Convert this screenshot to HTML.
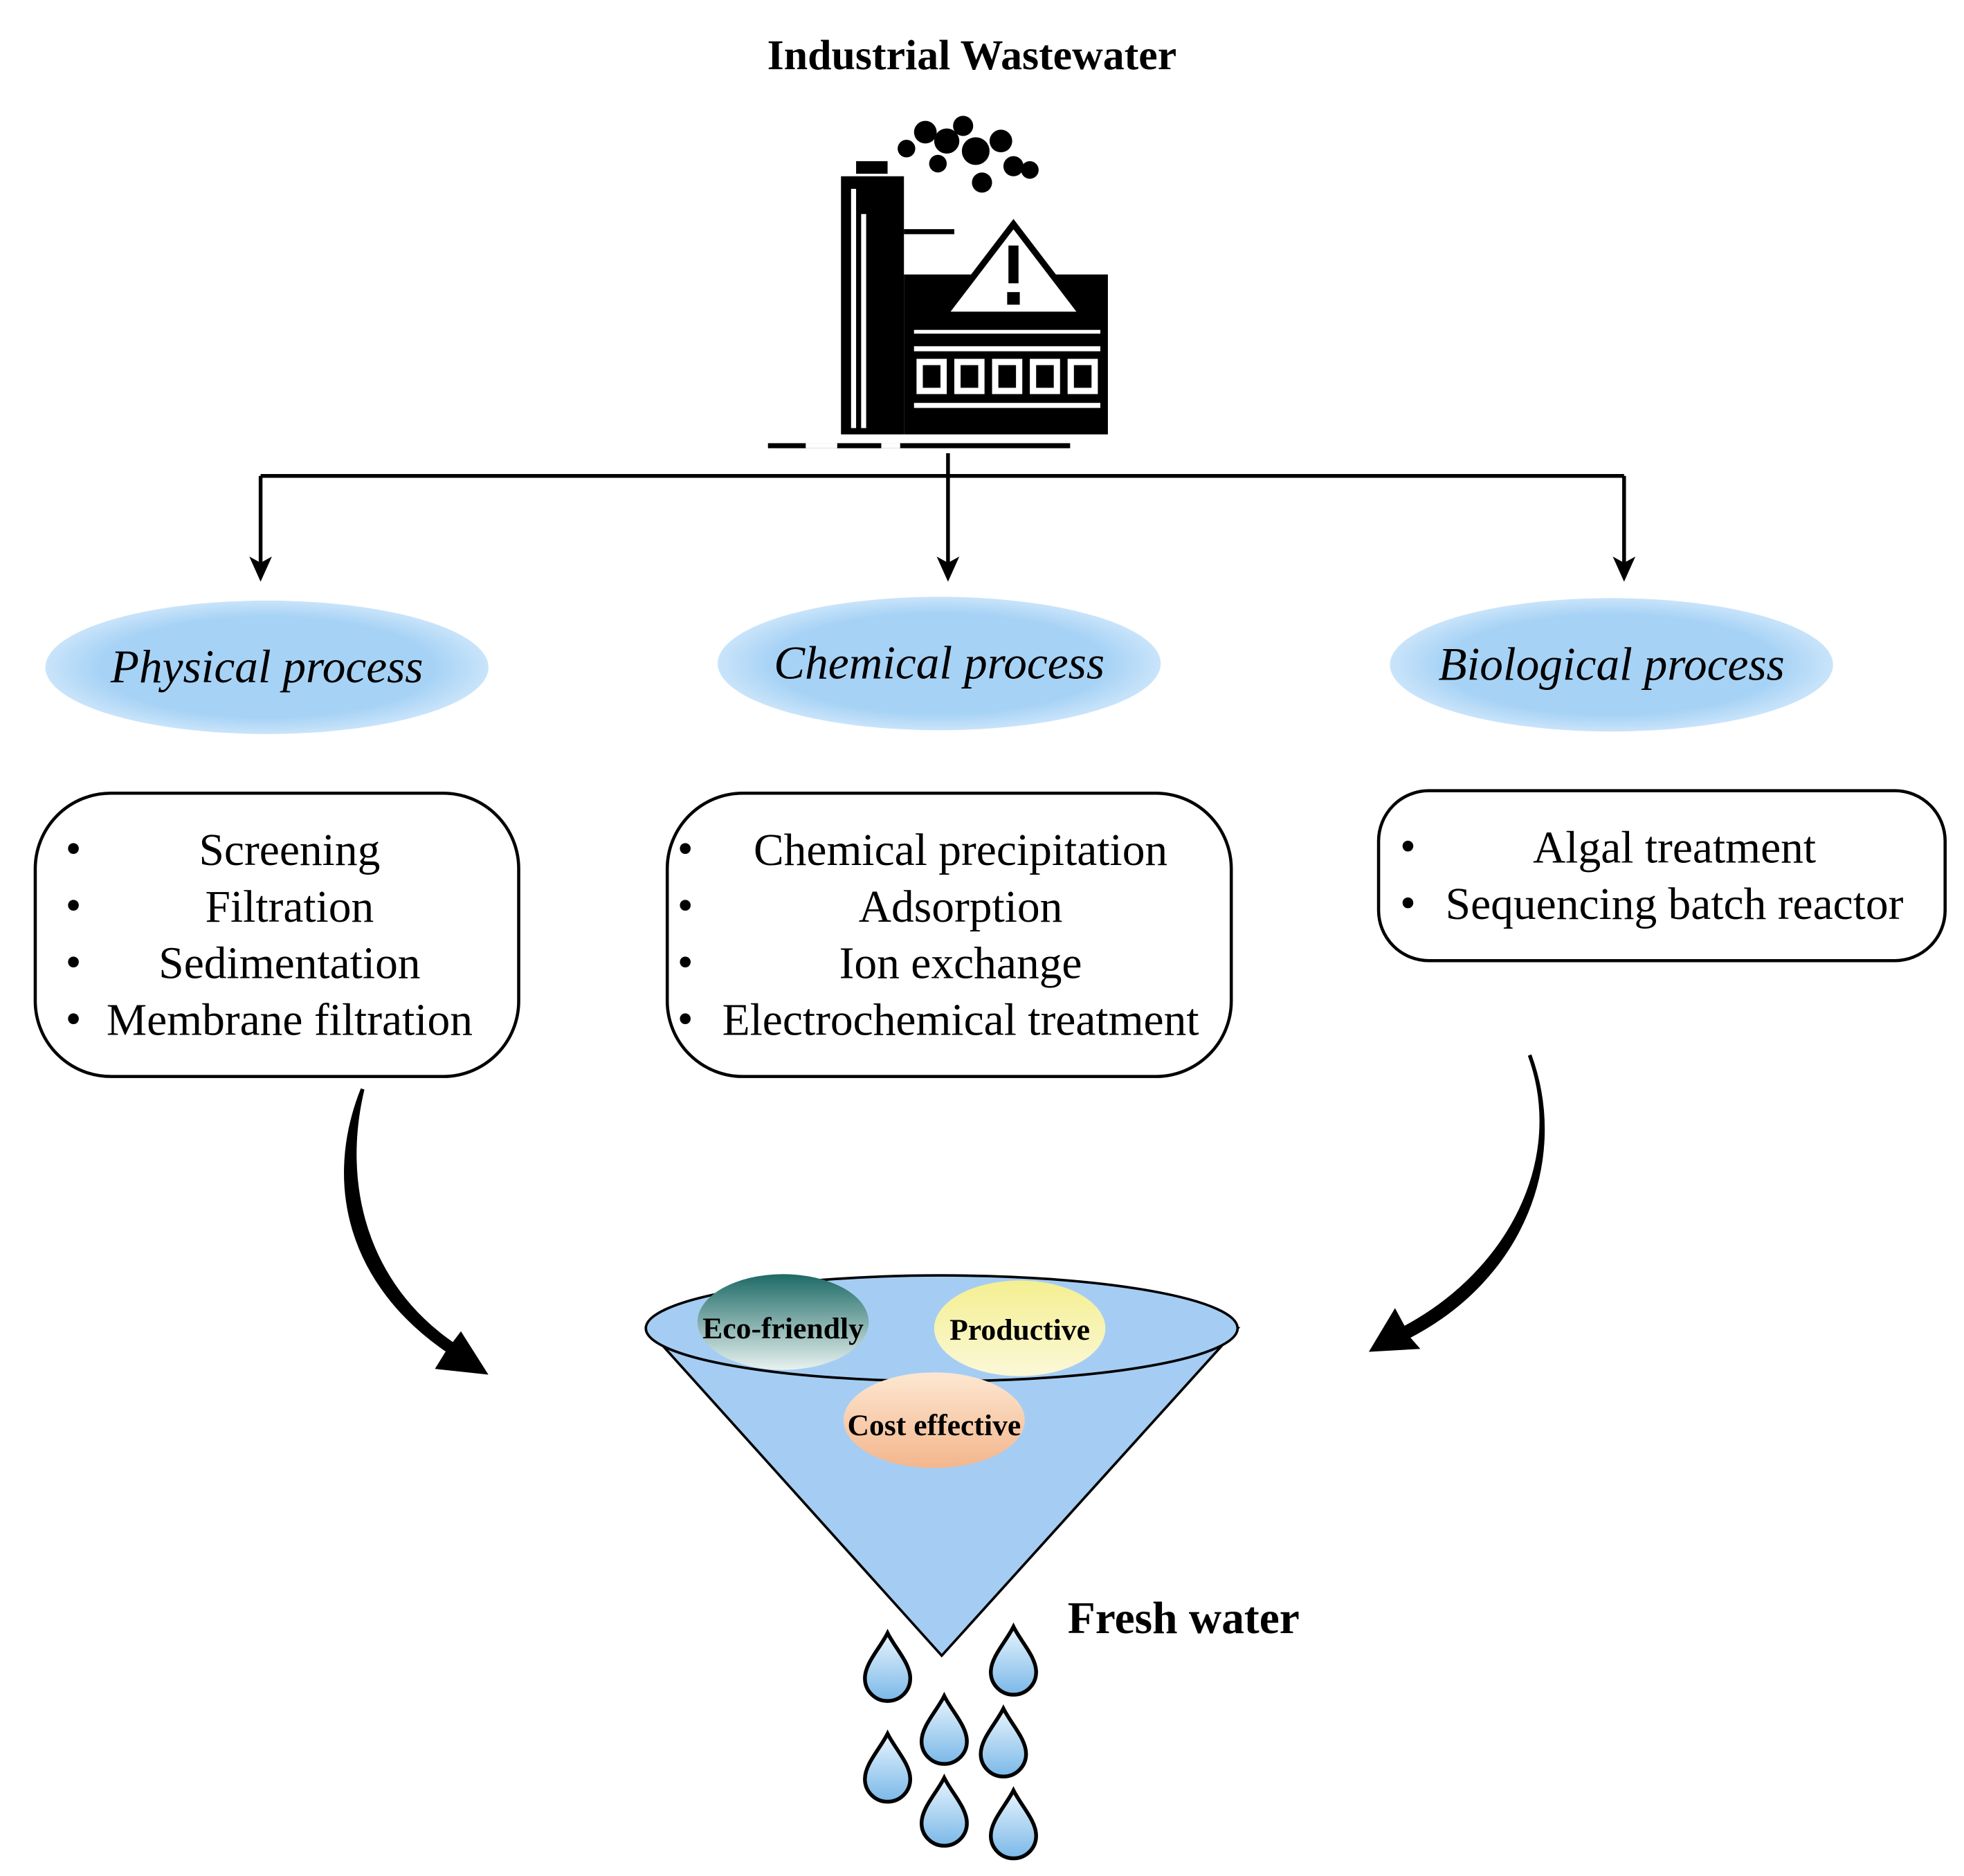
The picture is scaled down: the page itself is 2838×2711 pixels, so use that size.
<!DOCTYPE html>
<html><head><meta charset="utf-8"><style>
html,body{margin:0;padding:0;background:#fff}
svg{display:block}
text{font-family:"Liberation Serif",serif}
</style></head><body>
<svg width="2838" height="2711" viewBox="0 0 1560 1490" preserveAspectRatio="none" xmlns="http://www.w3.org/2000/svg">
<defs>
<radialGradient id="ell" cx="50%" cy="50%" r="50%">
<stop offset="0.75" stop-color="#a6d2f5"/><stop offset="1" stop-color="#c9e4fa"/>
</radialGradient>
<linearGradient id="eco" x1="0" y1="0" x2="0" y2="1"><stop offset="0" stop-color="#1d6a66"/><stop offset="1" stop-color="#e8f2f0"/></linearGradient>
<linearGradient id="prod" x1="0" y1="0" x2="0" y2="1"><stop offset="0" stop-color="#f4ef90"/><stop offset="1" stop-color="#fbf8d8"/></linearGradient>
<linearGradient id="cost" x1="0" y1="0" x2="0" y2="1"><stop offset="0" stop-color="#fde7d2"/><stop offset="1" stop-color="#f3b68c"/></linearGradient>
<linearGradient id="drop" x1="0" y1="0" x2="0" y2="1"><stop offset="0" stop-color="#e8f4fd"/><stop offset="1" stop-color="#7ab8e8"/></linearGradient>
<g id="d"><path d="M0,-28 C6,-16 18,-4 18,8 A18,18 0 0 1 -18,8 C-18,-4 -6,-16 0,-28 Z" fill="url(#drop)" stroke="#000" stroke-width="3"/></g>
</defs>
<text x="772" y="55" font-size="34" font-weight="bold" text-anchor="middle">Industrial Wastewater</text>
<!-- factory -->
<g fill="#000">
<circle cx="735" cy="105" r="9"/><circle cx="752" cy="112" r="10"/><circle cx="765" cy="100" r="8"/><circle cx="775" cy="120" r="11"/><circle cx="795" cy="112" r="9"/><circle cx="805" cy="132" r="8"/><circle cx="780" cy="145" r="8"/><circle cx="818" cy="135" r="7"/><circle cx="720" cy="118" r="7"/><circle cx="745" cy="130" r="7"/>
<rect x="680" y="128" width="25" height="10"/>
<rect x="668" y="140" width="50" height="205"/>
<rect x="718" y="182" width="40" height="4"/>
<rect x="718" y="218" width="162" height="127"/>
<rect x="610" y="352" width="240" height="4"/>
</g>
<g fill="#fff">
<rect x="676" y="150" width="4" height="190"/><rect x="684" y="170" width="4" height="170"/>
<rect x="726" y="275" width="148" height="4"/><rect x="726" y="262" width="148" height="3"/>
<rect x="728" y="285" width="24" height="28"/><rect x="758" y="285" width="24" height="28"/><rect x="788" y="285" width="24" height="28"/><rect x="818" y="285" width="24" height="28"/><rect x="848" y="285" width="24" height="28"/>
<rect x="726" y="320" width="148" height="4"/>
<rect x="640" y="352" width="25" height="4"/><rect x="700" y="352" width="15" height="4"/>
</g>
<g fill="#000"><rect x="733" y="290" width="14" height="18"/><rect x="763" y="290" width="14" height="18"/><rect x="793" y="290" width="14" height="18"/><rect x="823" y="290" width="14" height="18"/><rect x="853" y="290" width="14" height="18"/></g>
<path d="M805,178 L860,250 L750,250 Z" fill="#fff" stroke="#000" stroke-width="5"/>
<rect x="801" y="195" width="8" height="30" fill="#000"/><rect x="800" y="232" width="10" height="10" fill="#000"/>
<!-- connectors -->
<g stroke="#000" stroke-width="3" fill="none">
<path d="M207,378 H1290"/>
<path d="M753,360 V448"/>
<path d="M207,378 V448"/>
<path d="M1290,378 V448"/>
</g>
<g fill="#000">
<path d="M198,442 L207,462 L216,442 L207,447 Z"/>
<path d="M744,442 L753,462 L762,442 L753,447 Z"/>
<path d="M1281,442 L1290,462 L1299,442 L1290,447 Z"/>
</g>
<!-- ellipses -->
<ellipse cx="212" cy="530" rx="176" ry="53" fill="url(#ell)"/>
<ellipse cx="746" cy="527" rx="176" ry="53" fill="url(#ell)"/>
<ellipse cx="1280" cy="528" rx="176" ry="53" fill="url(#ell)"/>
<g font-size="37" font-style="italic" text-anchor="middle">
<text x="212" y="542">Physical process</text>
<text x="746" y="539">Chemical process</text>
<text x="1280" y="540">Biological process</text>
</g>
<!-- boxes -->
<g fill="#fff" stroke="#000" stroke-width="2.5">
<rect x="28" y="630" width="384" height="225" rx="60"/>
<rect x="530" y="630" width="448" height="225" rx="60"/>
<rect x="1095" y="628" width="450" height="135" rx="40"/>
</g>
<g font-size="36">
<text x="52" y="686">•</text><text x="52" y="731">•</text><text x="52" y="776">•</text><text x="52" y="821">•</text>
<text x="230" y="687" text-anchor="middle">Screening</text>
<text x="230" y="732" text-anchor="middle">Filtration</text>
<text x="230" y="777" text-anchor="middle">Sedimentation</text>
<text x="230" y="822" text-anchor="middle">Membrane filtration</text>
<text x="538" y="686">•</text><text x="538" y="731">•</text><text x="538" y="776">•</text><text x="538" y="821">•</text>
<text x="763" y="687" text-anchor="middle">Chemical precipitation</text>
<text x="763" y="732" text-anchor="middle">Adsorption</text>
<text x="763" y="777" text-anchor="middle">Ion exchange</text>
<text x="763" y="822" text-anchor="middle">Electrochemical treatment</text>
<text x="1112" y="684">•</text><text x="1112" y="729">•</text>
<text x="1330" y="685" text-anchor="middle">Algal treatment</text>
<text x="1330" y="730" text-anchor="middle">Sequencing batch reactor</text>
</g>
<!-- curved arrows -->
<path d="M288,865 C258,940 278,1020 356,1073 L348,1086 L385,1090 L366,1060 L360,1068 C290,1020 270,940 288,865 Z" fill="#000" stroke="#000" stroke-width="3"/>
<path d="M1215,838 C1245,920 1200,1010 1115,1055 L1108,1042 L1090,1072 L1125,1070 L1118,1062 C1210,1015 1245,920 1215,838 Z" fill="#000" stroke="#000" stroke-width="3"/>
<!-- funnel -->
<path d="M514,1055 L748,1315 L983,1055 Z" fill="#a5cdf3" stroke="#000" stroke-width="2"/>
<ellipse cx="748" cy="1055" rx="235" ry="42" fill="#a5cdf3" stroke="#000" stroke-width="2"/>
<ellipse cx="622" cy="1050" rx="68" ry="38" fill="url(#eco)"/>
<ellipse cx="810" cy="1055" rx="68" ry="38" fill="url(#prod)"/>
<ellipse cx="742" cy="1128" rx="72" ry="38" fill="url(#cost)"/>
<g font-size="24" font-weight="bold" text-anchor="middle">
<text x="622" y="1063">Eco-friendly</text>
<text x="810" y="1064">Productive</text>
<text x="742" y="1140">Cost effective</text>
</g>
<text x="848" y="1297" font-size="36" font-weight="bold">Fresh water</text>
<use href="#d" x="705" y="1325"/><use href="#d" x="805" y="1320"/><use href="#d" x="750" y="1375"/><use href="#d" x="797" y="1385"/><use href="#d" x="705" y="1405"/><use href="#d" x="750" y="1440"/><use href="#d" x="805" y="1450"/>
</svg>
</body></html>
